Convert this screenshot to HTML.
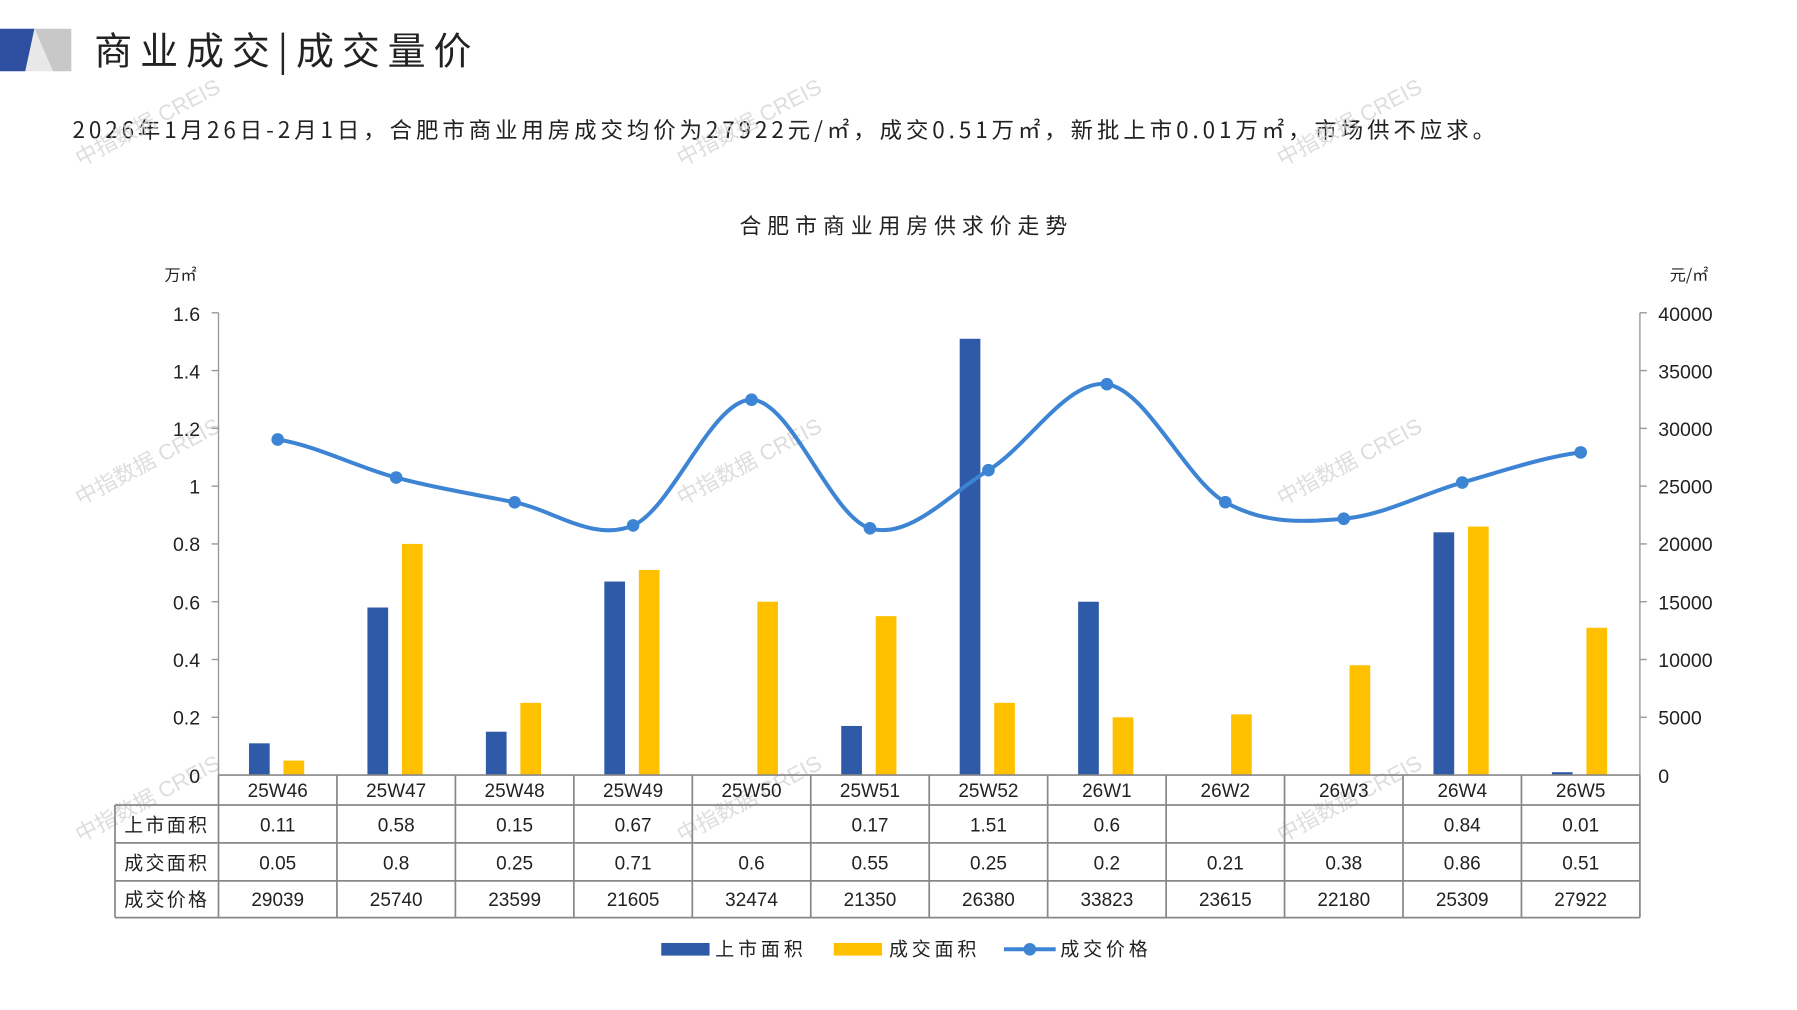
<!DOCTYPE html>
<html><head><meta charset="utf-8"><style>
html,body{margin:0;padding:0;background:#fff;width:1797px;height:1010px;overflow:hidden}
svg{display:block}
text{font-family:"Liberation Sans","Noto Sans CJK SC",sans-serif;fill:#222}
.c{font-family:"Noto Sans CJK SC","WenQuanYi Zen Hei",sans-serif}
</style></head><body>
<svg width="1797" height="1010" viewBox="0 0 1562.6 878.3" preserveAspectRatio="none" xmlns="http://www.w3.org/2000/svg">
<polygon points="0,25 30,25 22,62 0,62" fill="#2e4fa0"/>
<polygon points="30,25 62,25 62,62 46,62" fill="#c8c8c8"/>
<polygon points="30,25 46,62 22,62" fill="#e8e8e8"/>
<text x="82" y="56" class="c" font-size="33" fill="#111" textLength="328" lengthAdjust="spacing">商业成交|成交量价</text>
<text x="63" y="120" class="c" font-size="19.5" fill="#333" textLength="1237" lengthAdjust="spacing">2026年1月26日-2月1日，合肥市商业用房成交均价为27922元/㎡，成交0.51万㎡，新批上市0.01万㎡，市场供不应求。</text>
<g class="c" font-size="19" opacity="0.8">
<text transform="translate(70,145) rotate(-28)" style="fill:#d5d5d5">中指数据 CREIS</text>
<text transform="translate(593,145) rotate(-28)" style="fill:#d5d5d5">中指数据 CREIS</text>
<text transform="translate(1115,145) rotate(-28)" style="fill:#d5d5d5">中指数据 CREIS</text>
<text transform="translate(70,440) rotate(-28)" style="fill:#d5d5d5">中指数据 CREIS</text>
<text transform="translate(593,440) rotate(-28)" style="fill:#d5d5d5">中指数据 CREIS</text>
<text transform="translate(1115,440) rotate(-28)" style="fill:#d5d5d5">中指数据 CREIS</text>
<text transform="translate(70,733) rotate(-28)" style="fill:#d5d5d5">中指数据 CREIS</text>
<text transform="translate(593,733) rotate(-28)" style="fill:#d5d5d5">中指数据 CREIS</text>
<text transform="translate(1115,733) rotate(-28)" style="fill:#d5d5d5">中指数据 CREIS</text>
</g>
<text x="643" y="203" class="c" font-size="19" fill="#333" textLength="285" lengthAdjust="spacing">合肥市商业用房供求价走势</text>
<text x="143" y="244" class="c" font-size="14" fill="#333">万㎡</text>
<text x="1452" y="244" class="c" font-size="14" fill="#333">元/㎡</text>
<g stroke="#999" stroke-width="1.2">
<line x1="190" y1="272" x2="190" y2="674"/>
<line x1="1426" y1="272" x2="1426" y2="674"/>
<line x1="184" y1="272" x2="190" y2="272"/><line x1="184" y1="322.25" x2="190" y2="322.25"/><line x1="184" y1="372.5" x2="190" y2="372.5"/><line x1="184" y1="422.75" x2="190" y2="422.75"/><line x1="184" y1="473" x2="190" y2="473"/><line x1="184" y1="523.25" x2="190" y2="523.25"/><line x1="184" y1="573.5" x2="190" y2="573.5"/><line x1="184" y1="623.75" x2="190" y2="623.75"/>
<line x1="1426" y1="272" x2="1432" y2="272"/><line x1="1426" y1="322.25" x2="1432" y2="322.25"/><line x1="1426" y1="372.5" x2="1432" y2="372.5"/><line x1="1426" y1="422.75" x2="1432" y2="422.75"/><line x1="1426" y1="473" x2="1432" y2="473"/><line x1="1426" y1="523.25" x2="1432" y2="523.25"/><line x1="1426" y1="573.5" x2="1432" y2="573.5"/><line x1="1426" y1="623.75" x2="1432" y2="623.75"/>
</g>
<g font-size="17" text-anchor="end">
<text x="174" y="279">1.6</text><text x="174" y="329">1.4</text><text x="174" y="379">1.2</text><text x="174" y="429">1</text><text x="174" y="479">0.8</text><text x="174" y="530">0.6</text><text x="174" y="580">0.4</text><text x="174" y="630">0.2</text><text x="174" y="681">0</text>
</g>
<g font-size="17">
<text x="1442" y="279">40000</text><text x="1442" y="329">35000</text><text x="1442" y="379">30000</text><text x="1442" y="429">25000</text><text x="1442" y="479">20000</text><text x="1442" y="530">15000</text><text x="1442" y="580">10000</text><text x="1442" y="630">5000</text><text x="1442" y="681">0</text>
</g>
<g fill="#2e5aa8">
<rect x="216.5" y="646.4" width="18" height="27.6"/>
<rect x="319.5" y="528.3" width="18" height="145.7"/>
<rect x="422.5" y="636.3" width="18" height="37.7"/>
<rect x="525.5" y="505.7" width="18" height="168.3"/>
<rect x="731.5" y="631.3" width="18" height="42.7"/>
<rect x="834.5" y="294.6" width="18" height="379.4"/>
<rect x="937.5" y="523.25" width="18" height="150.75"/>
<rect x="1246.5" y="462.9" width="18" height="211.1"/>
<rect x="1349.5" y="671.5" width="18" height="2.5"/>
</g>
<g fill="#ffc000">
<rect x="246.5" y="661.4" width="18" height="12.6"/>
<rect x="349.5" y="473" width="18" height="201"/>
<rect x="452.5" y="611.2" width="18" height="62.8"/>
<rect x="555.5" y="495.6" width="18" height="178.4"/>
<rect x="658.5" y="523.25" width="18" height="150.75"/>
<rect x="761.5" y="535.8" width="18" height="138.2"/>
<rect x="864.5" y="611.2" width="18" height="62.8"/>
<rect x="967.5" y="623.75" width="18" height="50.25"/>
<rect x="1070.5" y="621.2" width="18" height="52.8"/>
<rect x="1173.5" y="578.5" width="18" height="95.5"/>
<rect x="1276.5" y="457.9" width="18" height="216.1"/>
<rect x="1379.5" y="545.9" width="18" height="128.1"/>
</g>
<path fill="none" stroke="#3d85d4" stroke-width="3.5" d="M241.5,382.2 C275.8,387.7 310.2,406.2 344.5,415.3 C378.8,424.4 413.2,429.9 447.5,436.8 C481.8,443.7 516.2,471.8 550.5,456.9 C584.8,442 619.2,347.2 653.5,347.6 C687.8,348 722.2,449.2 756.5,459.4 C790.8,469.6 825.2,429.8 859.5,408.9 C893.8,388 928.2,329.5 962.5,334.1 C996.8,338.7 1031.2,417.2 1065.5,436.7 C1099.8,456.2 1134.2,453.95 1168.5,451.1 C1202.8,448.25 1237.2,429.2 1271.5,419.6 C1305.8,410 1340.2,397.8 1374.5,393.4"/>
<g fill="#3d85d4">
<circle cx="241.5" cy="382.2" r="5.5"/><circle cx="344.5" cy="415.3" r="5.5"/><circle cx="447.5" cy="436.8" r="5.5"/><circle cx="550.5" cy="456.9" r="5.5"/><circle cx="653.5" cy="347.6" r="5.5"/><circle cx="756.5" cy="459.4" r="5.5"/><circle cx="859.5" cy="408.9" r="5.5"/><circle cx="962.5" cy="334.1" r="5.5"/><circle cx="1065.5" cy="436.7" r="5.5"/><circle cx="1168.5" cy="451.1" r="5.5"/><circle cx="1271.5" cy="419.6" r="5.5"/><circle cx="1374.5" cy="393.4" r="5.5"/>
</g>
<g stroke="#888" stroke-width="1.5">
<line x1="190" y1="674" x2="1426" y2="674"/>
<line x1="100" y1="700" x2="1426" y2="700"/>
<line x1="100" y1="733" x2="1426" y2="733"/>
<line x1="100" y1="766" x2="1426" y2="766"/>
<line x1="100" y1="798" x2="1426" y2="798"/>
<line x1="100" y1="700" x2="100" y2="798"/>
<line x1="190" y1="674" x2="190" y2="798"/><line x1="293" y1="674" x2="293" y2="798"/><line x1="396" y1="674" x2="396" y2="798"/><line x1="499" y1="674" x2="499" y2="798"/><line x1="602" y1="674" x2="602" y2="798"/><line x1="705" y1="674" x2="705" y2="798"/><line x1="808" y1="674" x2="808" y2="798"/><line x1="911" y1="674" x2="911" y2="798"/><line x1="1014" y1="674" x2="1014" y2="798"/><line x1="1117" y1="674" x2="1117" y2="798"/><line x1="1220" y1="674" x2="1220" y2="798"/><line x1="1323" y1="674" x2="1323" y2="798"/><line x1="1426" y1="674" x2="1426" y2="798"/>
</g>
<g font-size="16.5" text-anchor="middle">
<text x="241.5" y="693">25W46</text><text x="344.5" y="693">25W47</text><text x="447.5" y="693">25W48</text><text x="550.5" y="693">25W49</text><text x="653.5" y="693">25W50</text><text x="756.5" y="693">25W51</text><text x="859.5" y="693">25W52</text><text x="962.5" y="693">26W1</text><text x="1065.5" y="693">26W2</text><text x="1168.5" y="693">26W3</text><text x="1271.5" y="693">26W4</text><text x="1374.5" y="693">26W5</text>
<text x="241.5" y="723">0.11</text><text x="344.5" y="723">0.58</text><text x="447.5" y="723">0.15</text><text x="550.5" y="723">0.67</text><text x="756.5" y="723">0.17</text><text x="859.5" y="723">1.51</text><text x="962.5" y="723">0.6</text><text x="1271.5" y="723">0.84</text><text x="1374.5" y="723">0.01</text>
<text x="241.5" y="756">0.05</text><text x="344.5" y="756">0.8</text><text x="447.5" y="756">0.25</text><text x="550.5" y="756">0.71</text><text x="653.5" y="756">0.6</text><text x="756.5" y="756">0.55</text><text x="859.5" y="756">0.25</text><text x="962.5" y="756">0.2</text><text x="1065.5" y="756">0.21</text><text x="1168.5" y="756">0.38</text><text x="1271.5" y="756">0.86</text><text x="1374.5" y="756">0.51</text>
<text x="241.5" y="788">29039</text><text x="344.5" y="788">25740</text><text x="447.5" y="788">23599</text><text x="550.5" y="788">21605</text><text x="653.5" y="788">32474</text><text x="756.5" y="788">21350</text><text x="859.5" y="788">26380</text><text x="962.5" y="788">33823</text><text x="1065.5" y="788">23615</text><text x="1168.5" y="788">22180</text><text x="1271.5" y="788">25309</text><text x="1374.5" y="788">27922</text>
</g>
<g class="c" font-size="16.5" text-anchor="middle" letter-spacing="2">
<text x="145" y="723">上市面积</text><text x="145" y="756">成交面积</text><text x="145" y="788">成交价格</text>
</g>
<rect x="575" y="820" width="42" height="11" fill="#2e5aa8"/>
<text x="622" y="831" class="c" font-size="16.5" textLength="76" lengthAdjust="spacing">上市面积</text>
<rect x="725" y="820" width="42" height="11" fill="#ffc000"/>
<text x="773" y="831" class="c" font-size="16.5" textLength="76" lengthAdjust="spacing">成交面积</text>
<line x1="873" y1="825.5" x2="918" y2="825.5" stroke="#3d85d4" stroke-width="3.5"/>
<circle cx="895.5" cy="825.5" r="5.5" fill="#3d85d4"/>
<text x="922" y="831" class="c" font-size="16.5" textLength="76" lengthAdjust="spacing">成交价格</text>
</svg>
</body></html>
